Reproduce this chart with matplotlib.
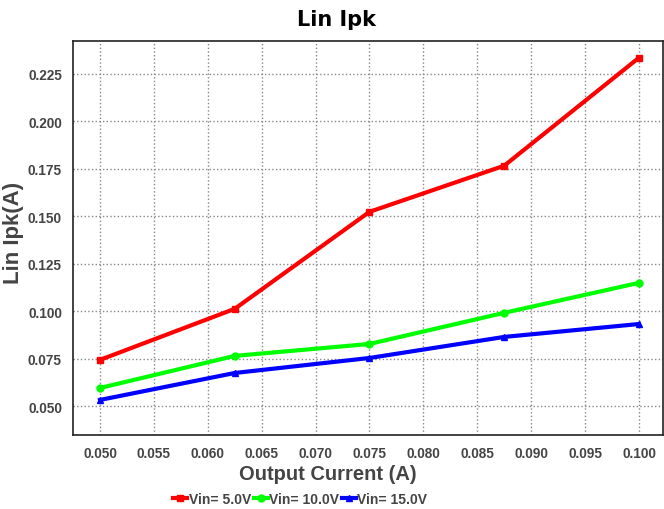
import numpy as np
import matplotlib
matplotlib.use('Agg')
import matplotlib.pyplot as plt

# valeurs
output_current = [0.05, 0.0625, 0.075, 0.0875, 0.1]
ipk_5v = [0.0743, 0.1012, 0.1523, 0.1766, 0.2335]
ipk_10v = [0.0595, 0.0764, 0.0827, 0.0991, 0.1149]
ipk_15v = [0.0532, 0.0674, 0.0753, 0.0864, 0.0932]
labels = ['Vin= 5.0V', 'Vin= 10.0V', 'Vin= 15.0V']
x_ticks = np.arange(0.05, 0.1001, 0.005)
y_ticks = np.arange(0.05, 0.2251, 0.025)

plt.rcParams['font.family'] = ['Liberation Sans', 'DejaVu Sans']

fig = plt.figure(figsize=(6.64, 5.10), dpi=100)
ax = fig.add_axes([0.110, 0.145, 0.888, 0.773])

ax.plot(output_current, ipk_5v, color='#ff0000', lw=3, marker='s', ms=5, label=labels[0])
ax.plot(output_current, ipk_10v, color='#00ff00', lw=3, marker='o', ms=5, label=labels[1])
ax.plot(output_current, ipk_15v, color='#0000ff', lw=3, marker='^', ms=5, label=labels[2])

ax.set_xlim(0.0475, 0.1022)
ax.set_ylim(0.0347, 0.2424)
ax.set_xticks(x_ticks)
ax.set_yticks(y_ticks)
ax.set_xticklabels(['%.3f' % v for v in x_ticks])
ax.set_yticklabels(['%.3f' % v for v in y_ticks])
ax.tick_params(length=0, pad=8, labelsize=9.8, labelcolor='#444444')
for lab in ax.get_xticklabels() + ax.get_yticklabels():
    lab.set_fontweight('bold')
ax.grid(True, ls=':', color='#888888', lw=1)
for s in ax.spines.values():
    s.set_linewidth(1.2)
    s.set_color('#222222')

# titre et labels centrés sur la figure, comme dans l'original
fig.text(0.507, 0.961, 'Lin Ipk', fontsize=15, fontweight='bold', family='DejaVu Sans',
         ha='center', va='center')
fig.text(0.494, 0.070, 'Output Current (A)', fontsize=14.5, fontweight='bold', color='#444444',
         ha='center', va='center')
fig.text(0.021, 0.543, 'Lin Ipk(A)', fontsize=16, fontweight='bold', color='#444444',
         ha='center', va='center', rotation=90)

leg = fig.legend(loc='center', bbox_to_anchor=(0.452, 0.019), ncol=3, frameon=False,
                 handlelength=1.0, handletextpad=0.1, columnspacing=0.2,
                 borderpad=0.1, prop={'weight': 'bold', 'size': 10})
for t in leg.get_texts():
    t.set_color('#444444')

fig.savefig('out.png', dpi=100)
